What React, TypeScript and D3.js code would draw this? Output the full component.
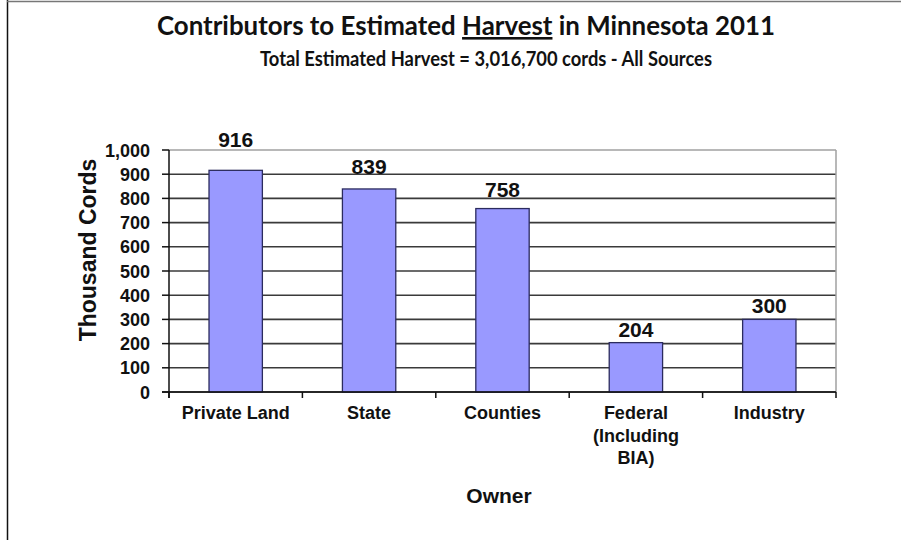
import React from "react";
import * as d3 from "d3";

const categories: string[][] = [
  ["Private Land"],
  ["State"],
  ["Counties"],
  ["Federal", "(Including", "BIA)"],
  ["Industry"],
];
const values: number[] = [916, 839, 758, 204, 300];
const yTicks: number[] = [0, 100, 200, 300, 400, 500, 600, 700, 800, 900, 1000];
const labelGap: number[] = [23, 15, 12, 6, 6];

const title = "Contributors to Estimated ";
const titleUnder = "Harvest";
const titleRest = " in Minnesota 2011";
const subtitle = "Total Estimated Harvest = 3,016,700 cords - All Sources";
const yTitle = "Thousand Cords";
const xTitle = "Owner";

const W = 901;
const H = 540;
const plot = { left: 169, right: 836, top: 150, bottom: 392 };

export default function App() {
  const idx = categories.map((_, i) => i);
  const x = d3
    .scaleBand<number>()
    .domain(idx)
    .range([plot.left, plot.right])
    .paddingInner(0.6)
    .paddingOuter(0.3);
  const band = (plot.right - plot.left) / categories.length;
  const y = d3.scaleLinear().domain([0, 1000]).range([plot.bottom, plot.top]);
  const fmt = d3.format(",");
  const arial = "Arial, 'Liberation Sans', sans-serif";
  const titleFont = "Lato, 'Open Sans', sans-serif";

  return (
    <svg
      width={W}
      height={H}
      style={{ position: "absolute", left: 0, top: 0, background: "#fff" }}
    >
      <rect x={0} y={0} width={W} height={H} fill="#fff" />
      {/* frame */}
      <line x1={7.5} y1={0} x2={7.5} y2={H} stroke="#111" strokeWidth={1.5} />
      <line x1={7} y1={1.5} x2={W} y2={1.5} stroke="#777" strokeWidth={1.5} />

      {/* titles */}
      <text
        x={466}
        y={35}
        textAnchor="middle"
        fontFamily={titleFont}
        fontWeight={700}
        fontSize={26}
        fill="#111"
        textLength={618}
        lengthAdjust="spacingAndGlyphs"
      >
        {title}
        <tspan style={{ textDecoration: "underline" }}>{titleUnder}</tspan>
        {titleRest}
      </text>
      <text
        x={486}
        y={66}
        textAnchor="middle"
        fontFamily={titleFont}
        fontWeight={700}
        fontSize={21}
        fill="#111"
        textLength={452}
        lengthAdjust="spacingAndGlyphs"
      >
        {subtitle}
      </text>

      {/* gridlines */}
      {yTicks.map((t) => (
        <line
          key={"g" + t}
          x1={plot.left}
          x2={plot.right}
          y1={y(t)}
          y2={y(t)}
          stroke={t === 1000 ? "#a0a0a0" : "#3a3a3a"}
          strokeWidth={t === 1000 ? 1.5 : 1.6}
        />
      ))}
      <line
        x1={plot.right}
        x2={plot.right}
        y1={plot.top}
        y2={plot.bottom}
        stroke="#a0a0a0"
        strokeWidth={1.5}
      />

      {/* bars */}
      {values.map((v, i) => (
        <rect
          key={"b" + i}
          x={x(i)!}
          y={y(v)}
          width={x.bandwidth()}
          height={y(0) - y(v)}
          fill="#9999ff"
          stroke="#2b2b5e"
          strokeWidth={1.3}
        />
      ))}

      {/* value labels */}
      {values.map((v, i) => (
        <text
          key={"v" + i}
          x={x(i)! + x.bandwidth() / 2}
          y={y(v) - labelGap[i]}
          textAnchor="middle"
          fontFamily={arial}
          fontWeight={700}
          fontSize={21}
          fill="#111"
        >
          {fmt(v)}
        </text>
      ))}

      {/* y axis */}
      <line
        x1={plot.left}
        x2={plot.left}
        y1={plot.top}
        y2={plot.bottom + 6}
        stroke="#111"
        strokeWidth={1.5}
      />
      {yTicks.map((t) => (
        <g key={"yt" + t}>
          <line
            x1={plot.left - 7}
            x2={plot.left}
            y1={y(t)}
            y2={y(t)}
            stroke="#111"
            strokeWidth={1.5}
          />
          <text
            x={150}
            y={y(t) + 6.5}
            textAnchor="end"
            fontFamily={arial}
            fontWeight={700}
            fontSize={18}
            fill="#111"
          >
            {fmt(t)}
          </text>
        </g>
      ))}

      {/* x axis */}
      <line
        x1={plot.left - 7}
        x2={plot.right}
        y1={plot.bottom}
        y2={plot.bottom}
        stroke="#111"
        strokeWidth={1.5}
      />
      {d3.range(categories.length + 1).map((k) => (
        <line
          key={"xt" + k}
          x1={plot.left + k * band}
          x2={plot.left + k * band}
          y1={plot.bottom}
          y2={plot.bottom + 6}
          stroke="#111"
          strokeWidth={1.5}
        />
      ))}
      {categories.map((lines, i) => (
        <text
          key={"c" + i}
          x={x(i)! + x.bandwidth() / 2}
          y={419}
          textAnchor="middle"
          fontFamily={arial}
          fontWeight={700}
          fontSize={18}
          fill="#111"
        >
          {lines.map((l, j) => (
            <tspan key={j} x={x(i)! + x.bandwidth() / 2} dy={j === 0 ? 0 : 22.5}>
              {l}
            </tspan>
          ))}
        </text>
      ))}

      {/* axis titles */}
      <text
        transform={`translate(96,${250}) rotate(-90)`}
        textAnchor="middle"
        fontFamily={arial}
        fontWeight={700}
        fontSize={23}
        fill="#111"
      >
        {yTitle}
      </text>
      <text
        x={499}
        y={503}
        textAnchor="middle"
        fontFamily={arial}
        fontWeight={700}
        fontSize={21}
        fill="#111"
      >
        {xTitle}
      </text>
    </svg>
  );
}
